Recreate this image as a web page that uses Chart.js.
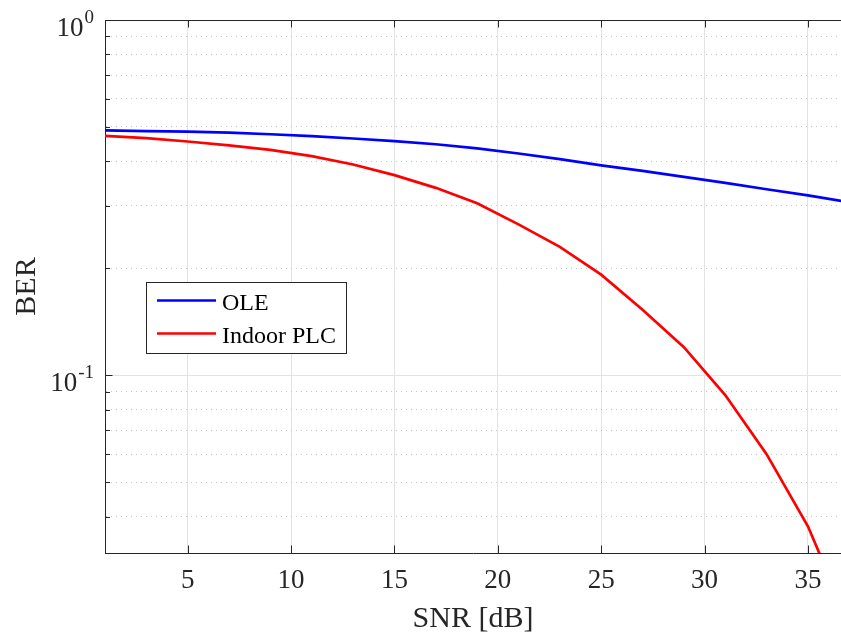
<!DOCTYPE html>
<html>
<head>
<meta charset="utf-8">
<script src="https://cdn.jsdelivr.net/npm/chart.js@4.4.1/dist/chart.umd.min.js"></script>
<style>
  html, body { margin: 0; padding: 0; background: #fff; }
  #wrap { width: 841px; height: 635px; }
</style>
</head>
<body>
<div id="wrap"><canvas id="graph" width="841" height="635"></canvas></div>
<script>
// SNR points (dB)
var snr = [1, 3, 5, 7, 9, 11, 13, 15, 17, 19, 21, 23, 25, 27, 29, 31, 33, 35, 37];
// BER, OLE channel
var ber_ole = [0.489, 0.487, 0.485, 0.482, 0.477, 0.471, 0.464, 0.456, 0.447, 0.435,
               0.421, 0.406, 0.390, 0.376, 0.362, 0.348, 0.334, 0.321, 0.307];
// BER, indoor PLC channel
var ber_plc = [0.472, 0.465, 0.455, 0.444, 0.431, 0.414, 0.392, 0.366, 0.337, 0.305,
               0.266, 0.230, 0.192, 0.153, 0.120, 0.088, 0.060, 0.0376, 0.020];

var x_ticks = [5, 10, 15, 20, 25, 30, 35];
var y_ticks = [0.04, 0.05, 0.06, 0.07, 0.08, 0.09, 0.1, 0.2, 0.3, 0.4, 0.5, 0.6, 0.7, 0.8, 0.9, 1];
var y_labels = [[0.1, "-1"], [1, "0"]];

var FONT = "'Liberation Serif', 'Times New Roman', serif";
var AXIS = "#262626";

function isMajor(v) {
    return Math.abs(Math.log10(v) - Math.round(Math.log10(v))) < 1e-6;
}

function toPoints(ys) {
    var pts = [];
    for (let i = 0; i < snr.length; i++) {
        pts.push({x: snr[i], y: ys[i]});
    }
    return pts;
}

// axes decorations, tick labels and the legend box
var deco = {
    id: "deco",
    afterDraw: function(chart) {
        var ctx = chart.ctx;
        var a = chart.chartArea;
        var sx = chart.scales.x, sy = chart.scales.y;
        ctx.save();
        ctx.strokeStyle = AXIS;
        ctx.lineWidth = 1;

        // top box line
        ctx.beginPath();
        ctx.moveTo(a.left, a.top + 0.5);
        ctx.lineTo(a.right, a.top + 0.5);
        ctx.stroke();

        // x ticks (bottom and top, inward)
        ctx.beginPath();
        x_ticks.forEach(function(v) {
            var px = Math.round(sx.getPixelForValue(v)) + 0.5;
            ctx.moveTo(px, a.bottom);
            ctx.lineTo(px, a.bottom - 7.5);
            ctx.moveTo(px, a.top);
            ctx.lineTo(px, a.top + 7.5);
        });
        // y ticks (left, inward)
        y_ticks.forEach(function(v) {
            var py = Math.round(sy.getPixelForValue(v)) + 0.5;
            ctx.moveTo(a.left, py);
            ctx.lineTo(a.left + (isMajor(v) ? 7.5 : 5), py);
        });
        ctx.stroke();

        // x tick labels
        ctx.fillStyle = AXIS;
        ctx.font = "27px " + FONT;
        ctx.textAlign = "center";
        ctx.textBaseline = "alphabetic";
        x_ticks.forEach(function(v) {
            ctx.fillText(String(v), sx.getPixelForValue(v), a.bottom + 35);
        });

        // y tick labels 10^n
        y_labels.forEach(function(l) {
            var py = sy.getPixelForValue(l[0]);
            ctx.font = "19px " + FONT;
            ctx.textAlign = "right";
            var supW = ctx.measureText(l[1]).width;
            ctx.fillText(l[1], 94, py + 3);
            ctx.font = "27px " + FONT;
            ctx.fillText("10", 94 - supW - 1, py + 15.5);
        });

        // axis titles
        ctx.font = "30px " + FONT;
        ctx.textAlign = "center";
        ctx.fillText("SNR [dB]", (a.left + a.right) / 2, 627);
        ctx.save();
        ctx.translate(35, (a.top + a.bottom) / 2);
        ctx.rotate(-Math.PI / 2);
        ctx.fillText("BER", 0, 0);
        ctx.restore();

        // legend
        var lx = 146.5, ly = 282.5, lw = 200, lh = 71;
        ctx.fillStyle = "#fff";
        ctx.fillRect(lx, ly, lw, lh);
        ctx.strokeStyle = AXIS;
        ctx.lineWidth = 1;
        ctx.strokeRect(lx, ly, lw, lh);
        ctx.font = "24px " + FONT;
        ctx.textAlign = "left";
        chart.data.datasets.forEach(function(ds, i) {
            var yy = 300.5 + i * 33;
            ctx.strokeStyle = ds.borderColor;
            ctx.lineWidth = 2.7;
            ctx.beginPath();
            ctx.moveTo(157, yy);
            ctx.lineTo(216, yy);
            ctx.stroke();
            ctx.fillStyle = "#000";
            ctx.fillText(ds.label, 222, yy + 9);
        });
        ctx.restore();
    }
};

var ctx = document.getElementById("graph").getContext("2d");

var data = {
    datasets: [
        {
            label: "OLE",
            borderColor: "#0000ff",
            data: toPoints(ber_ole)
        },
        {
            label: "Indoor PLC",
            borderColor: "#ff0000",
            data: toPoints(ber_plc)
        }
    ]
};

var options = {
    responsive: false,
    animation: false,
    layout: { padding: { top: 20, right: 0, left: 0, bottom: 0 } },
    elements: {
        line: { borderWidth: 2.7, tension: 0, fill: false },
        point: { radius: 0, hoverRadius: 0 }
    },
    plugins: { legend: { display: false }, tooltip: { enabled: false } },
    scales: {
        x: {
            type: "linear",
            min: 1,
            max: 36.6,
            afterBuildTicks: function(s) {
                s.ticks = x_ticks.map(function(v) { return {value: v}; });
            },
            afterFit: function(s) { s.height = 82; },
            ticks: { display: false },
            grid: { color: "#e3e3e3", lineWidth: 1, drawTicks: false },
            border: { display: true, color: AXIS, width: 1 }
        },
        y: {
            type: "logarithmic",
            min: Math.pow(10, -1.5),
            max: 1,
            afterBuildTicks: function(s) {
                s.ticks = y_ticks.map(function(v) { return {value: v}; });
            },
            afterFit: function(s) { s.width = 105; },
            ticks: { display: false },
            grid: {
                drawTicks: false,
                lineWidth: 1,
                color: function(c) {
                    if (c.tick && !isMajor(c.tick.value)) return "#c4c4c4";
                    return "#e3e3e3";
                }
            },
            border: {
                display: true,
                color: AXIS,
                width: 1,
                dash: function(c) {
                    if (c.tick && !isMajor(c.tick.value)) return [1, 4];
                    return [];
                }
            }
        }
    }
};

var config = {
    type: "line",
    data: data,
    options: options,
    plugins: [deco]
};

var graph = new Chart(ctx, config);
</script>
</body>
</html>
